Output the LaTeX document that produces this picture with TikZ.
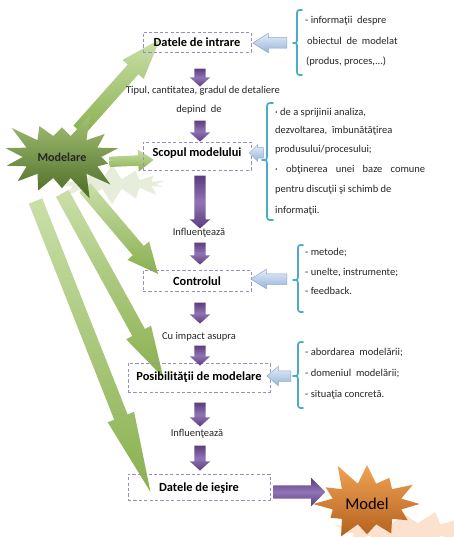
\documentclass[tikz,border=0pt]{standalone}
\usepackage{fontspec}
\setmainfont{Carlito}
\usetikzlibrary{shapes.arrows,shapes.symbols,calc}
\definecolor{boxc}{HTML}{9D8BC4}
\definecolor{txt}{HTML}{262626}
\definecolor{purpD}{HTML}{5B3D7C}
\definecolor{purpL}{HTML}{9174B5}
\definecolor{greenL}{HTML}{CADFA8}
\definecolor{greenD}{HTML}{8AB050}
\definecolor{starL}{HTML}{A3C174}
\definecolor{starD}{HTML}{4E6B26}
\definecolor{braceC}{HTML}{4BACC6}
\definecolor{blueL}{HTML}{E6EEF8}
\definecolor{blueD}{HTML}{95B5DC}
\definecolor{blueE}{HTML}{8DA7C8}
\definecolor{orgL}{HTML}{F0A254}
\definecolor{orgD}{HTML}{B4621F}
\definecolor{peach}{HTML}{FBE1CE}
\definecolor{gshadow}{HTML}{E6EEDB}
\newcommand\blockarrow[3]{%
  \path let \p1=(#2), \p2=(#3),
    \n1={atan2(\y2-\y1,\x2-\x1)},
    \n2={veclen(\x2-\x1,\y2-\y1)} in
    node[#1, rotate=\n1, minimum height=\n2] at ($(\p1)!0.5!(\p2)$) {};}
\newcommand\sidebrace[6]{% xr xm xc ytop ybot ymid
  \draw[brc] (#1,#4) .. controls (#2,#4) .. (#2,#4+6) -- (#2,#6-6)
    .. controls (#2,#6) .. (#3,#6) .. controls (#2,#6) .. (#2,#6+6)
    -- (#2,#5-6) .. controls (#2,#5) .. (#1,#5);}
\begin{document}
\begin{tikzpicture}[x=1pt,y=-1pt,
  box/.style={draw=boxc, dash pattern=on 3.2pt off 2.2pt, line width=0.9pt,
    inner sep=0pt, text height=9pt, text depth=0pt, font=\bfseries\fontsize{12.4}{14}\selectfont},
  mid/.style={font=\fontsize{10.5}{12}\selectfont, text=txt, anchor=base, inner sep=0pt},
  rt/.style={font=\fontsize{10.5}{12}\selectfont, text=txt, anchor=base west, inner sep=0pt},
  brc/.style={draw=braceC, line width=1.7pt, line cap=round, line join=round},
  parrow/.style={single arrow, draw=none, inner xsep=0pt, inner ysep=5.5pt, outer sep=0pt,
    single arrow head extend=4.5pt, single arrow tip angle=96,
    top color=purpD, bottom color=purpD, middle color=purpL},
  garrow/.style={single arrow, draw=none, inner xsep=0pt, inner ysep=7pt, outer sep=0pt,
    single arrow head extend=7pt, top color=greenL, bottom color=greenD},
  barrow/.style={single arrow, draw=blueE, line width=0.5pt, inner xsep=0pt, inner ysep=5pt,
    outer sep=0pt, single arrow head extend=4.5pt, single arrow tip angle=64,
    top color=blueL, bottom color=blueD},
]
\useasboundingbox (0,0) rectangle (453,537);
\fill[white] (0,0) rectangle (453,537);

% shadows of the stars
\node[starburst, starburst points=14, starburst point height=16pt, random starburst=7,
  minimum width=120pt, minimum height=38pt, fill=gshadow, draw=none] (gsh) at (112,184) {};
\node[starburst, starburst points=14, starburst point height=18pt, random starburst=9,
  minimum width=150pt, minimum height=50pt, fill=peach, draw=none] (osh) at (405,530) {};

% green arrows from Modelare
\coordinate (g1a) at (72,138);  \coordinate (g1b) at (153,47);
\coordinate (g2a) at (106,162); \coordinate (g2b) at (150,160);
\coordinate (g3a) at (80,182);  \coordinate (g3b) at (153,268);
\coordinate (g4a) at (56,182);  \coordinate (g4b) at (157,366);
\coordinate (g5a) at (28,182);  \coordinate (g5b) at (143,473);
\blockarrow{garrow, single arrow tip angle=39}{g1a}{g1b}
\blockarrow{garrow, inner ysep=5pt, single arrow head extend=6pt, single arrow tip angle=72}{g2a}{g2b}
\blockarrow{garrow, single arrow tip angle=50}{g3a}{g3b}
\blockarrow{garrow, single arrow tip angle=31}{g4a}{g4b}
\blockarrow{garrow, single arrow tip angle=20}{g5a}{g5b}

% boxes
\node[box, minimum width=108pt, minimum height=20pt] (intrare) at (197,42) {Datele de intrare};
\node[box, minimum width=108pt, minimum height=28pt, text depth=7pt] (scopul) at (197,156) {Scopul modelului};
\node[box, minimum width=108pt, minimum height=21pt] (control) at (197,280.5) {Controlul};
\node[box, minimum width=142pt, minimum height=29pt, text depth=4pt] (posib) at (199,377.5) {Posibilităţii de modelare};
\node[box, minimum width=142pt, minimum height=26pt] (iesire) at (199,487) {Datele de ieşire};

% middle labels
\node[mid] (t1) at (203,94) {Tipul, cantitatea, gradul de detaliere};
\node[mid] (t2) at (199,113) {depind\ \ de};
\node[mid] (t3) at (199,235) {Influenţează};
\node[mid] (t4) at (199,339) {Cu impact asupra};
\node[mid] (t5) at (197,436) {Influenţează};

% purple down arrows
\foreach \i/\a/\b in {1/66/84, 2/118/139, 3/173/226, 4/240/262, 5/300/321, 6/343/363, 7/400/424, 8/443/468}{
  \coordinate (p\i a) at (200,\a);
  \coordinate (p\i b) at (200,\b);
  \blockarrow{parrow}{p\i a}{p\i b}
}
% purple right arrow to Model
\coordinate (ra) at (270,492);
\coordinate (rb) at (322,492);
\blockarrow{parrow, inner ysep=6.5pt, single arrow head extend=7.5pt, single arrow tip angle=90}{ra}{rb}

% right side braces and texts
\sidebrace{302}{297}{293}{10}{75}{43}
\sidebrace{273}{267}{262}{103}{220}{160}
\sidebrace{303}{298}{293}{245}{312}{280}
\sidebrace{303}{298}{293}{342}{408}{376}

\node[rt] (r11) at (305,24) {- informaţii\ \ despre};
\node[rt] (r12) at (307,45) {obiectul\ \ de\ \ modelat};
\node[rt] (r13) at (306,65) {(produs, proces,...)};

\node[rt] (r21) at (275,116) {· de a sprijinii analiza,};
\node[rt] (r22) at (275,134) {dezvoltarea,\ \ îmbunătăţirea};
\node[rt] (r23) at (275,153) {produsului/procesului;};
\node[rt] (r24) at (275,173) {\makebox[150pt][s]{· obţinerea unei baze comune}};
\node[rt] (r25) at (275,193) {pentru discuţii şi schimb de};
\node[rt] (r26) at (275,213) {informaţii.};

\node[rt] (r31) at (305,255) {- metode;};
\node[rt] (r32) at (305,275) {- unelte, instrumente;};
\node[rt] (r33) at (305,294) {- feedback.};

\node[rt] (r41) at (305,355) {- abordarea\ \ modelării;};
\node[rt] (r42) at (305,376) {- domeniul\ \ modelării;};
\node[rt] (r43) at (305,397) {- situaţia concretă.};

% light blue arrows
\coordinate (b1a) at (291,43);  \coordinate (b1b) at (257,43);
\coordinate (b2a) at (266,153); \coordinate (b2b) at (252,153);
\coordinate (b3a) at (291,279); \coordinate (b3b) at (255,279);
\coordinate (b4a) at (294,376); \coordinate (b4b) at (270,376);
\blockarrow{barrow}{b1a}{b1b}
\blockarrow{barrow, single arrow head extend=3pt, single arrow tip angle=90}{b2a}{b2b}
\blockarrow{barrow}{b3a}{b3b}
\blockarrow{barrow, single arrow tip angle=80}{b4a}{b4b}

% stars
\node[starburst, starburst points=14, starburst point height=26pt, random starburst=3,
  minimum width=108pt, minimum height=95pt, top color=starL, bottom color=starD, draw=none,
  font=\bfseries\fontsize{12.1}{14}\selectfont, text=black!85] (modelare) at (62,157) {Modelare};
\node[starburst, starburst points=12, starburst point height=24pt, random starburst=11,
  minimum width=98pt, minimum height=90pt, top color=orgL, bottom color=orgD, draw=none,
  font=\fontsize{16.5}{18}\selectfont] (model) at (367,504) {Model};
\end{tikzpicture}
\end{document}
